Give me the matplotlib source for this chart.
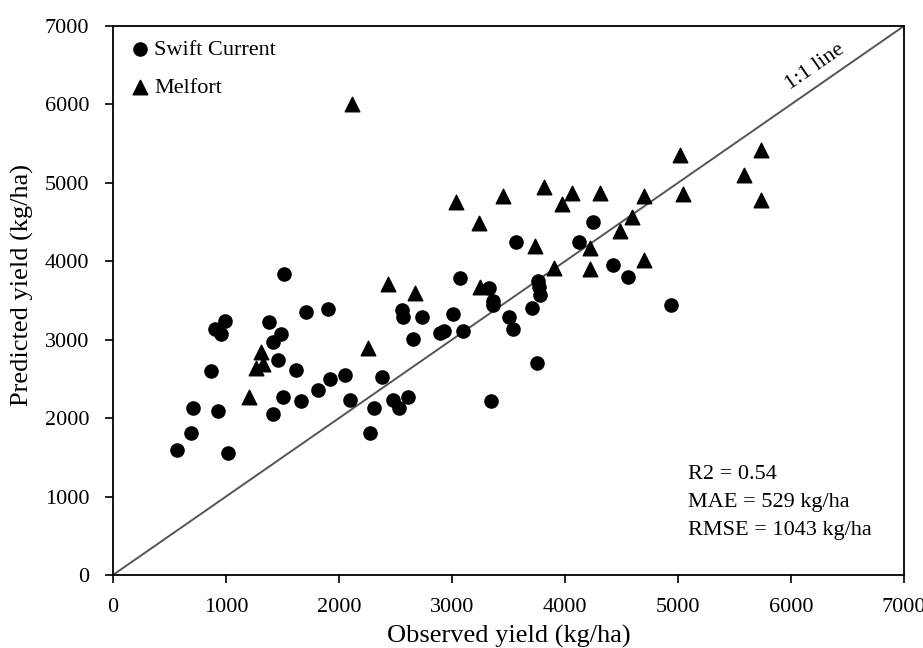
import numpy as np
import matplotlib
matplotlib.use('Agg')
import matplotlib.pyplot as plt

plt.rcParams['font.family'] = ['Liberation Serif', 'DejaVu Serif']

# Swift Current (circles), observed vs predicted, kg/ha
swift_obs = [566, 690, 708, 929, 1018, 867, 991, 903, 956, 1381, 1487, 1416,
             1708, 1903, 2558, 2566, 2735, 2655, 2894, 2929, 3009, 1460, 1619,
             1920, 2053, 2381, 1814, 1504, 1664, 2097, 2310, 2478, 2531, 2611,
             1416, 2274, 1513, 4248, 3566, 4124, 3071, 3327, 3363, 3363, 3761,
             3770, 3779, 3708, 3504, 3540, 3097, 4425, 4558, 4938, 3752, 3345]
swift_pred = [1594, 1811, 2129, 2091, 1556, 2601, 3239, 3137, 3073, 3226, 3073, 2971,
              3353, 3392, 3379, 3290, 3290, 3009, 3086, 3111, 3328, 2741, 2614,
              2499, 2550, 2525, 2359, 2270, 2219, 2231, 2129, 2231, 2129, 2270,
              2053, 1811, 3838, 4501, 4246, 4246, 3787, 3659, 3494, 3443, 3749,
              3672, 3570, 3404, 3290, 3137, 3111, 3953, 3800, 3443, 2703, 2219]

# Melfort (triangles)
melfort_obs = [2115, 2434, 2673, 1310, 1265, 1327, 1204, 2257, 3035, 3451, 3814,
               4062, 3973, 4310, 4699, 5044, 3239, 3735, 4221, 4487, 4593, 4699,
               4221, 3903, 3248, 5018, 5735, 5584, 5735]
melfort_pred = [6005, 3710, 3596, 2843, 2639, 2690, 2270, 2894, 4756, 4832, 4947,
                4871, 4730, 4871, 4832, 4858, 4488, 4195, 4169, 4386, 4565, 4016,
                3902, 3914, 3672, 5355, 5419, 5100, 4781]

ticks = [0, 1000, 2000, 3000, 4000, 5000, 6000, 7000]
stats_lines = ["R2 = 0.54", "MAE = 529 kg/ha", "RMSE = 1043 kg/ha"]

fig = plt.figure(figsize=(9.23, 6.48), dpi=100)
ax = fig.add_axes([0.1224, 0.1127, 0.857, 0.8472])

ax.plot([0, 7000], [0, 7000], color='#555555', lw=1.4, zorder=1)
ax.scatter(swift_obs, swift_pred, marker='o', s=90, color='black', label='Swift Current', zorder=3)
ax.scatter(melfort_obs, melfort_pred, marker='^', s=110, color='black', label='Melfort', zorder=3)

ax.set_xlim(0, 7000)
ax.set_ylim(0, 7000)
ax.set_xticks(ticks)
ax.set_yticks(ticks)
ax.tick_params(direction='out', length=6, width=1.2, labelsize=16, colors='black')
ax.tick_params(axis='x', pad=10.5)
ax.tick_params(axis='y', pad=11)
for sp in ax.spines.values():
    sp.set_linewidth(1.3)

ax.set_xlabel('Observed yield (kg/ha)', fontsize=19, labelpad=6)
ax.set_ylabel('Predicted yield (kg/ha)', fontsize=19)
ax.yaxis.set_label_coords(-0.100, 0.528)

ax.text(6212, 6477, '1:1 line', rotation=34.8, fontsize=16, ha='center', va='center',
        rotation_mode='anchor')
# stats block, one line each
for i, line in enumerate(stats_lines):
    ax.text(5088, 1275 - i * 357, line, fontsize=16, ha='left', va='center')

ax.legend(loc='upper left', frameon=False, fontsize=16, handletextpad=0.05,
          labelspacing=0.8, borderaxespad=0.2, handlelength=1.2,
          bbox_to_anchor=(0.0, 1.0))

fig.savefig('out.png', dpi=100)
